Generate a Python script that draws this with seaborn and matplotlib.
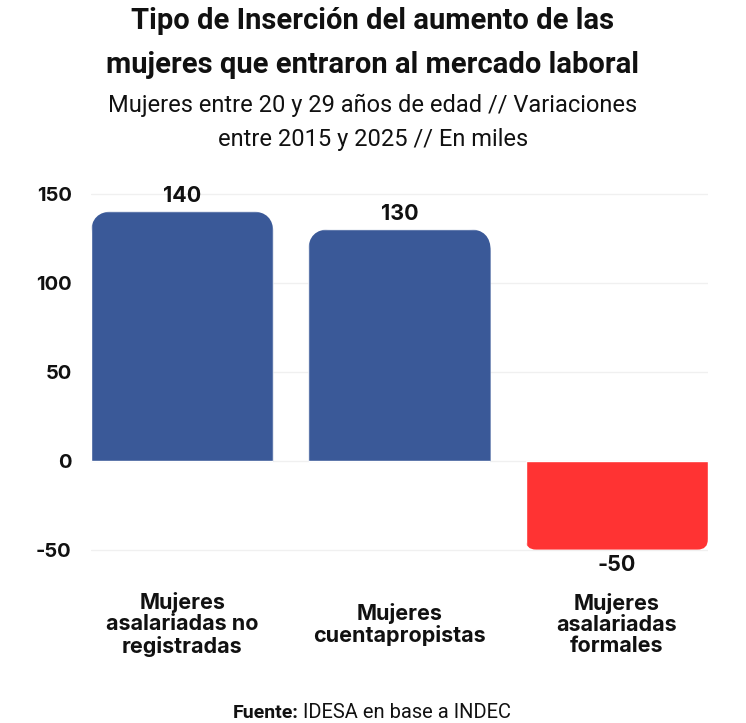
import pandas as pd
import matplotlib.pyplot as plt
import seaborn as sns
from matplotlib.patches import FancyBboxPatch

# data
categories = ["Mujeres\nasalariadas no\nregistradas",
              "Mujeres\ncuentapropistas",
              "Mujeres\nasalariadas\nformales"]
values = [140, 130, -50]
bar_colors = ["#3A5998", "#3A5998", "#FF3333"]
yticks = [-50, 0, 50, 100, 150]

df = pd.DataFrame({"Categoria": categories, "Valor": values})

sns.set_theme(style="white")
plt.rcParams["font.family"] = ["Inter", "DejaVu Sans"]
plt.rcParams["axes.unicode_minus"] = False

W, H = 746, 723
fig = plt.figure(figsize=(W / 100, H / 100), dpi=100)
ax = fig.add_axes([91 / W, 1 - 555 / H, (708 - 91) / W, (555 - 190) / H])

sns.barplot(data=df, x="Categoria", y="Valor", hue="Categoria", palette=bar_colors,
            legend=False, width=0.84, saturation=1, ax=ax, zorder=3)
ax.set_xlim(-0.42, 2.42)
ax.set_ylim(-53, 152)

# rounded corners on the outer end of each bar
fig.canvas.draw()
t = ax.transData
sx = t.transform((1, 0))[0] - t.transform((0, 0))[0]
sy = t.transform((0, 1))[1] - t.transform((0, 0))[1]
aspect = sx / sy
for p in ax.patches:
    x, w = p.get_x(), p.get_width()
    y0 = min(p.get_y(), p.get_y() + p.get_height())
    y1 = max(p.get_y(), p.get_y() + p.get_height())
    r_px = min(22, 0.12 * (y1 - y0) * sy)
    r = r_px / sx
    ext = 3 * r * aspect
    if p.get_height() >= 0:
        lo, hi = y0 - ext, y1
    else:
        lo, hi = y0, y1 + ext
    clip = FancyBboxPatch((x, lo), w, hi - lo,
                          boxstyle=f"round,pad=0,rounding_size={r}",
                          mutation_aspect=aspect, transform=ax.transData)
    p.set_clip_path(clip)

for c in ax.containers:
    ax.bar_label(c, padding=4, fontsize=15.5, fontweight="bold", color="#111111")

ax.set_yticks(yticks)
ax.grid(axis="y", color="#f0f0f0", linewidth=1, zorder=0)
sns.despine(ax=ax, left=True, bottom=True)
ax.set_xlabel("")
ax.set_ylabel("")
ax.tick_params(axis="y", length=0, pad=14, labelsize=14.5, labelcolor="#111111")
ax.tick_params(axis="x", length=0, pad=50, labelsize=15.5, labelcolor="#111111")
for lab in ax.get_yticklabels():
    lab.set_fontweight("bold")
for lab in ax.get_xticklabels():
    lab.set_fontweight("bold")
    lab.set_va("center")
    lab.set_linespacing(1.08)

fig.text(0.5, 1 - 43 / H, "Tipo de Inserción del aumento de las\nmujeres que entraron al mercado laboral",
         ha="center", va="center", fontsize=21, fontweight="bold", color="#111111",
         linespacing=1.7, family=["Roboto", "DejaVu Sans"])
fig.text(0.5, 1 - 122 / H, "Mujeres entre 20 y 29 años de edad // Variaciones\nentre 2015 y 2025 // En miles",
         ha="center", va="center", fontsize=17, color="#111111",
         linespacing=1.6, family=["Roboto", "DejaVu Sans"])

fig.text(299 / W, 1 - 713 / H, "Fuente:", ha="right", va="center", fontsize=14,
         fontweight="bold", color="#111111", family=["Roboto", "DejaVu Sans"])
fig.text(303 / W, 1 - 713 / H, "IDESA en base a INDEC", ha="left", va="center", fontsize=14.5,
         color="#111111", family=["Roboto", "DejaVu Sans"])

fig.savefig("out.png", dpi=100, facecolor="white")
